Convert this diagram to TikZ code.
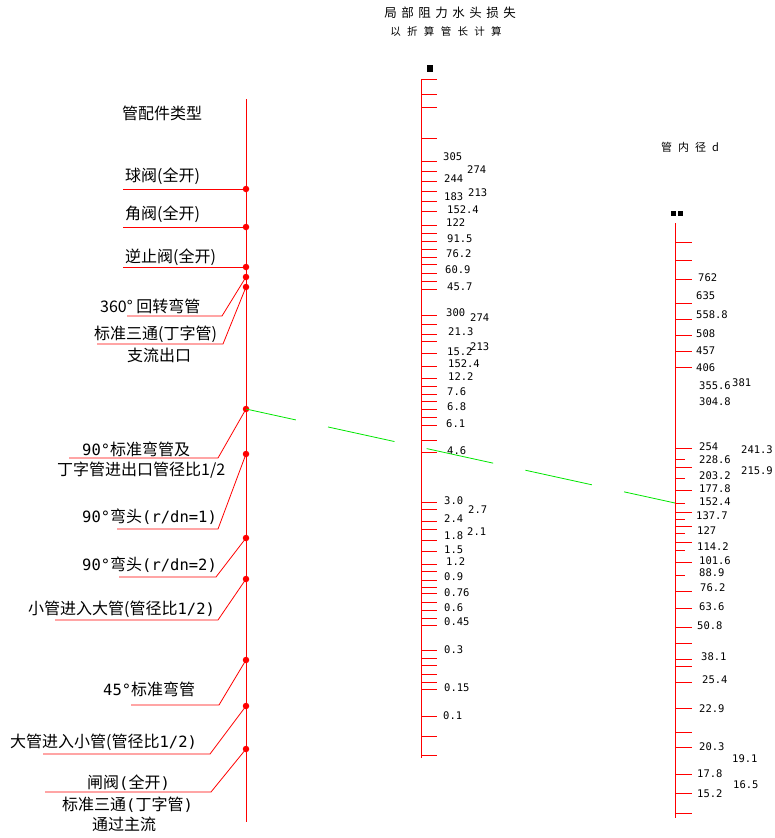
\documentclass[tikz,border=0pt]{standalone}
\usepackage{fontspec}
\newfontfamily\cjk{Noto Sans CJK SC}
\newfontfamily\cad{DejaVu Sans Mono}
\definecolor{lgreen}{RGB}{0,230,0}
\newcommand\gp[1]{\hspace{#1}}
\begin{document}
\begin{tikzpicture}[x=1pt,y=-1pt,
  redl/.style={red, line width=0.8pt},
  dot/.style={circle, fill=red, inner sep=0pt, minimum size=6.5pt},
  num/.style={anchor=west, inner sep=0pt, font=\cad\fontsize{10.5}{10.5}\selectfont},
  lbl/.style={anchor=west, inner sep=0pt, font=\cjk\fontsize{16}{16}\selectfont},
  head/.style={inner sep=0pt, font=\cjk\fontsize{12.5}{12.5}\selectfont}]
\useasboundingbox (0,0) rectangle (774,838);
\newcommand\cd{\cad\fontsize{15.5}{15.5}\selectfont}
% headers
\node[head] (h1) at (450,13) {局\gp{4.5pt}部\gp{4.5pt}阻\gp{4.5pt}力\gp{4.5pt}水\gp{4.5pt}头\gp{4.5pt}损\gp{4.5pt}失};
\node[head, font=\cjk\fontsize{10.5}{10.5}\selectfont] (h2) at (446,32) {以\gp{6.3pt}折\gp{6.3pt}算\gp{6.3pt}管\gp{6.3pt}长\gp{6.3pt}计\gp{6.3pt}算};
\node[head, anchor=west, font=\cjk\fontsize{11}{11}\selectfont] (h3) at (661,147) {管\gp{6pt}内\gp{6pt}径\gp{6pt}d};
\node[lbl] (h4) at (122,113) {管配件类型};
% axes
\coordinate (Ltop) at (246,99); \coordinate (Lbot) at (246,822);
\coordinate (Mtop) at (421,79); \coordinate (Mbot) at (421,758);
\coordinate (Rtop) at (675,223); \coordinate (Rbot) at (675,818);
\draw[redl] (Ltop) -- (Lbot);
\draw[redl] (Mtop) -- (Mbot);
\draw[redl] (Rtop) -- (Rbot);
\foreach \y in {79,94,107,138,161,171,181,191,201,211,225,233,241,249,257,264,273,281,289,
  315,324,334,341,353,366,378,386,394,401,409,417,425,440,452,502,509,521,529,540,551,564,
  571,580,587,593,602,610,618,625,650,658,665,674,682,689,716,736,755}
  \draw[redl] (421,\y) -- (437,\y);
\foreach \y in {242,260,279,303,319,335,351,367,448,467,490,512,526,542,562,591,608,627,643,
  659,666,682,708,732,747,774,793,813}
  \draw[redl] (675,\y) -- (692,\y);
\foreach \y in {459,478,503,519,533,550,575}
  \draw[redl] (675,\y) -- (685,\y);
% marker squares
\fill (427,65) rectangle (433,72);
\fill (671,211) rectangle (676,216);
\fill (678,211) rectangle (683,216);
% middle scale labels
\foreach \x/\y/\t in {443/157/305,467/170/274,444/179/244,444/197/183,468/193/213,447/210/152.4,
  446/223/122,447/239/91.5,446/254/76.2,445/270/60.9,447/287/45.7,
  446/313/300,470/318/274,448/332/21.3,447/352/15.2,470/347/213,448/364/152.4,448/377/12.2,
  447/392/7.6,447/407/6.8,446/424/6.1,447/451/4.6,444/501/3.0,468/510/2.7,444/519/2.4,
  444/536/1.8,467/532/2.1,444/550/1.5,446/562/1.2,444/577/0.9,444/593/0.76,444/608/0.6,
  444/622/0.45,444/650/0.3,444/688/0.15,443/716/0.1}
  \node[num] at (\x,\y) {\t};
% right scale labels
\foreach \x/\y/\t in {698/278/762,696/296/635,696/315/558.8,696/334/508,696/351/457,696/368/406,
  699/386/355.6,732/383/381,699/402/304.8,699/447/254,741/450/241.3,699/460/228.6,741/471/215.9,
  699/476/203.2,699/489/177.8,699/502/152.4,696/516/137.7,697/531/127,697/547/114.2,
  699/561/101.6,699/573/88.9,700/588/76.2,699/607/63.6,697/626/50.8,701/657/38.1,702/680/25.4,
  699/709/22.9,699/747/20.3,732/759/19.1,697/774/17.8,733/785/16.5,697/794/15.2}
  \node[num] at (\x,\y) {\t};
% dots on left axis
\foreach \n/\y in {1/189,2/227,3/267,4/277,5/287,6/409,7/454,8/538,9/579,10/660,11/706,12/749}
  \node[dot] (d\n) at (246,\y) {};
% labels
\node[lbl] (t1) at (125,176) {球阀(全开)};
\node[lbl] (t2) at (125,214) {角阀(全开)};
\node[lbl] (t3) at (125,257) {逆止阀(全开)};
\node[lbl] (t4) at (100,306) {360°\ 回转弯管};
\node[lbl] (t5a) at (94,334) {标准三通(丁字管)};
\node[lbl] (t5b) at (127,355) {支流出口};
\node[lbl] (t6a) at (82,449) {{\cd 90°}标准弯管及};
\node[lbl] (t6b) at (57,470) {丁字管进出口管径比1/2};
\node[lbl] (t7) at (82,517) {{\cd 90°}弯头{\cd(r/dn=1)}};
\node[lbl] (t8) at (82,565) {{\cd 90°}弯头{\cd(r/dn=2)}};
\node[lbl] (t9) at (28,609) {小管进入大管(管径比{\cd 1/2)}};
\node[lbl] (t10) at (103,689) {{\cd 45°}标准弯管};
\node[lbl] (t11) at (10,742) {大管进入小管(管径比{\cd 1/2)}};
\node[lbl] (t12a) at (87,783) {闸阀{\cd(}全开{\cd)}};
\node[lbl] (t12b) at (62,805) {标准三通{\cd(}丁字管{\cd)}};
\node[lbl] (t12c) at (92,824) {通过主流};
% leader lines
\coordinate (u1) at (123,189); \coordinate (u2) at (123,227); \coordinate (u3) at (123,267);
\draw[redl] (u1) -- (d1.center);
\draw[redl] (u2) -- (d2.center);
\draw[redl] (u3) -- (d3.center);
\foreach \n/\a/\b/\y in {4/127/222/316,5/97/223/344,6/69/218/458,7/117/218/529,8/119/216/577,
  9/55/218/620,10/131/219/705,11/43/210/754,12/45/211/792}
  {\coordinate (ua\n) at (\a,\y); \coordinate (ub\n) at (\b,\y);
   \draw[redl] (ua\n) -- (ub\n) -- (d\n.center);}
% green dashed line
\coordinate (r1524) at (675,503);
\draw[lgreen, line width=0.8pt, dash pattern=on 68pt off 33pt, dash phase=17pt] (d6.center) -- (r1524);
\end{tikzpicture}
\end{document}
